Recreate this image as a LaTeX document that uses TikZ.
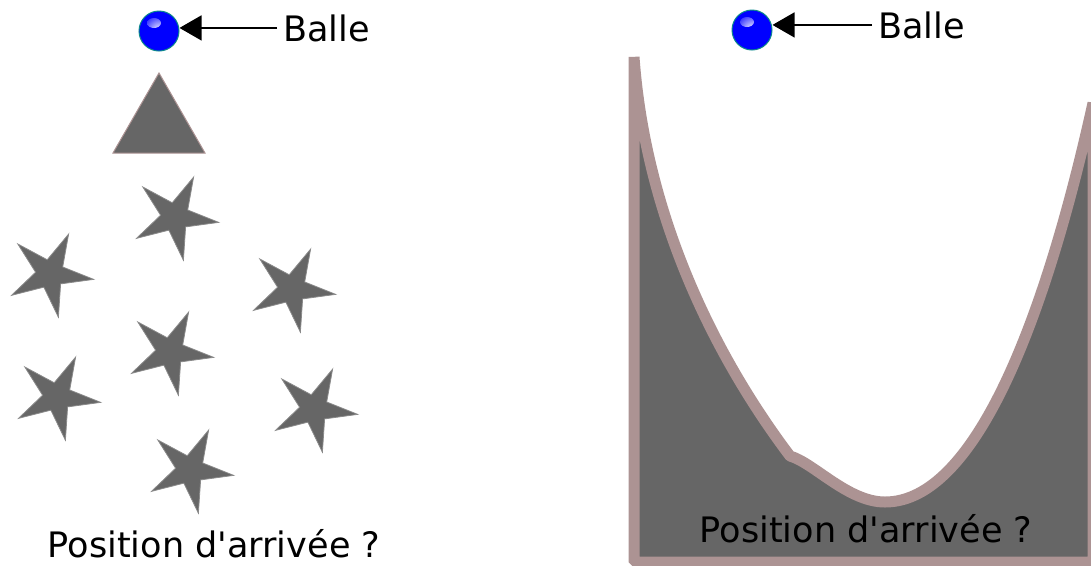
\documentclass[tikz,border=0pt]{standalone}
\usepackage{fontspec}
\setmainfont{DejaVu Sans}
\usetikzlibrary{arrows.meta,calc}
\definecolor{darkfill}{HTML}{666666}
\definecolor{rose}{HTML}{AC9393}
\definecolor{staredge}{HTML}{8A8A8A}
\definecolor{balledge}{HTML}{0B8A8A}
\tikzset{
  ballnode/.style={circle, draw=balledge, line width=0.75pt, fill=blue, minimum size=30pt, inner sep=0pt,
    path picture={\shade[inner color=white, outer color=blue] ($(path picture bounding box.center)+(-5,-8)$) ellipse [x radius=7, y radius=5];}},
  lbl/.style={font=\fontsize{26.3}{31}\selectfont, inner xsep=4.5pt, inner ysep=0pt, anchor=base west},
  postext/.style={font=\fontsize{26.3}{31}\selectfont, inner sep=0pt, anchor=base},
  ptr/.style={-{Triangle[length=16.5pt,width=18.75pt]}, line width=1pt},
  starshape/.style={fill=darkfill, draw=staredge, line width=0.6pt, line join=miter},
  tri/.style={fill=darkfill, draw=rose, line width=0.75pt},
  bowl/.style={fill=darkfill, draw=rose, line width=8.25pt, line join=bevel},
}
\begin{document}
\begin{tikzpicture}[x=0.75pt, y=-0.75pt]
\useasboundingbox (0,0) rectangle (1091,565);

% left side
\node[ballnode] (ballL) at (159,31) {};
\node[lbl] (lblL) at (277,41) {Balle};
\draw[ptr] (lblL.west) -- (lblL.west -| ballL.east);

\draw[tri] (159,73) -- (205,153) -- (113,153) -- cycle;

\foreach \cx/\cy in {175/217, 50/274, 292/289, 170/352, 57/397, 314/409, 190/470} {
  \draw[starshape] (\cx,\cy) +(-65:44) -- +(-29:14.5) -- +(7:44) -- +(43:14.5) -- +(79:44)
    -- +(115:14.5) -- +(151:44) -- +(187:14.5) -- +(223:44) -- +(259:14.5) -- cycle;
}

\node[postext] (posL) at (214,557) {Position d\textquotesingle arrivée ?};

% right side
\draw[bowl] (634,57) .. controls (645,210) and (710,350) .. (790,456)
  .. controls (814,463) and (848,502) .. (885,502)
  .. controls (975,502) and (1045,320) .. (1093,103)
  -- (1093,562) -- (634,562) -- cycle;

\node[ballnode] (ballR) at (752,30) {};
\node[lbl] (lblR) at (872,38) {Balle};
\draw[ptr] (lblR.west) -- (lblR.west -| ballR.east);

\node[postext] (posR) at (866,542) {Position d\textquotesingle arrivée ?};
\end{tikzpicture}
\end{document}
